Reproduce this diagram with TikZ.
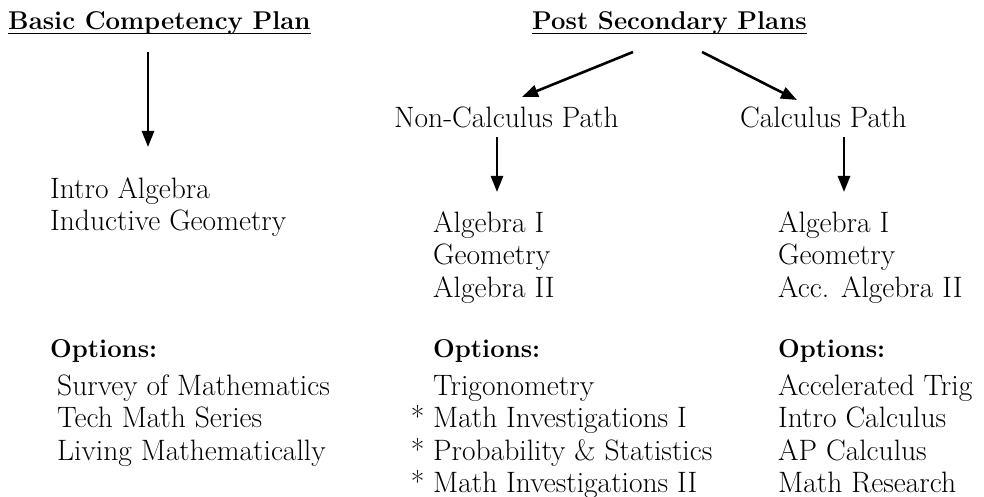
\documentclass[tikz,border=0pt]{standalone}
\usetikzlibrary{arrows.meta}
\begin{document}
\begin{tikzpicture}[x=1pt,y=-1pt]
            \tikzstyle{plan}=[anchor=base west,inner sep=0pt,font=\fontsize{25.7}{32.5}\selectfont\bfseries]
            \tikzstyle{course}=[anchor=base west,inner sep=0pt,align=left,font=\fontsize{29.5}{32.5}\selectfont]
            \tikzstyle{link}=[line width=2.6pt,-{Triangle[length=16pt,width=12pt]}]
            \useasboundingbox (0,0) rectangle (984,497);
            \node[plan] (basic) at (8,30) {Basic Competency Plan};
            \node[plan] (post) at (532,30) {Post Secondary Plans};
            \draw[line width=1.6pt] ([yshift=-3.5pt]basic.base west) -- ([yshift=-3.5pt]basic.base east);
            \draw[line width=1.6pt] ([yshift=-3.5pt]post.base west) -- ([yshift=-3.5pt]post.base east);
            \node[course] (noncalc) at (394,128) {Non-Calculus Path};
            \node[course] (calc) at (740,128) {Calculus Path};
            \node[course] (intro) at (50,230.5) {Intro Algebra\\Inductive Geometry};
            \node[course] (algnc) at (433,297) {Algebra I\\Geometry\\Algebra II};
            \node[course] (algc) at (778,297) {Algebra I\\Geometry\\Acc. Algebra II};
            \node[plan] (optbasic) at (50,357) {Options:};
            \node[plan] (optnc) at (433,357) {Options:};
            \node[plan] (optc) at (778,357) {Options:};
            \node[course] (listbasic) at (57,460) {Survey of Mathematics\\Tech Math Series\\Living Mathematically};
            \node[course] (listnc) at (433,492.5) {Trigonometry\\\llap{*\ }Math Investigations I\\\llap{*\ }Probability \& Statistics\\\llap{*\ }Math Investigations II};
            \node[course] (listc) at (778,492.5) {Accelerated Trig\\Intro Calculus\\AP Calculus\\Math Research};
            \draw[link] ([shift={(140,22)}]basic.base west) -- ([shift={(98,-83.5)}]intro.base west);
            \draw[link] ([shift={(101,22)}]post.base west) -- ([shift={(128,-31)}]noncalc.base west);
            \draw[link] ([shift={(170,22)}]post.base west) -- ([shift={(57,-28)}]calc.base west);
            \draw[link] ([shift={(103,9)}]noncalc.base west) -- ([shift={(64,-105)}]algnc.base west);
            \draw[link] ([shift={(104,9)}]calc.base west) -- ([shift={(66,-105)}]algc.base west);
        \end{tikzpicture}
\end{document}
